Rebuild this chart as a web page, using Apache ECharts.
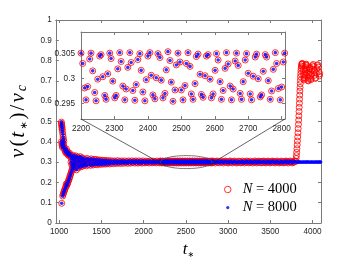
<!DOCTYPE html>
<html><head><meta charset="utf-8">
<script src="https://cdn.jsdelivr.net/npm/echarts@6/dist/echarts.min.js"></script>
<style>html,body{margin:0;padding:0;background:#fff}#c{width:355px;height:264px}</style>
</head><body><div id="c"></div><script>
// ---- tick values ----
const xTicksMain = [1000,1500,2000,2500,3000,3500,4000];
const yTicksMain = [0,0.1,0.2,0.3,0.4,0.5,0.6,0.7,0.8,0.9,1];
const xTicksInset = [2200,2300,2400,2500,2600,2700,2800];
const yTicksInset = [0.295,0.3,0.305];
const seriesNames = ['N = 4000','N = 8000'];

// ---- data: [t*, v/vc] (shared by both N where they coincide) ----
const earlyUpper = [[1026,0.497],[1028,0.490],[1030,0.483],[1032,0.476],[1034,0.469],[1036,0.461],[1039,0.450],[1043,0.437],[1047,0.424],[1051,0.412],[1055,0.402],[1029,0.402],[1032,0.391],[1035,0.381],[1039,0.372],[1045,0.394],[1050,0.386],[1056,0.377],[1061,0.368],[1067,0.360],[1073,0.353],[1079,0.346],[1085,0.365],[1091,0.353],[1097,0.342],[1103,0.336],[1109,0.348],[1115,0.338],[1121,0.330],[1127,0.342],[1133,0.332]];
const earlyLower = [[1030,0.097],[1042,0.133],[1047,0.141],[1053,0.149],[1059,0.156],[1065,0.163],[1071,0.170],[1077,0.177],[1083,0.192],[1089,0.184],[1095,0.190],[1101,0.197],[1107,0.204],[1113,0.211],[1119,0.218],[1125,0.226],[1131,0.234],[1137,0.242],[1143,0.250],[1149,0.258],[1155,0.266],[1161,0.274],[1167,0.281],[1173,0.288]];
const earlyBlob = [[1140,0.300],[1145,0.318],[1150,0.286],[1155,0.327],[1160,0.293],[1165,0.311],[1170,0.333],[1175,0.268],[1180,0.306],[1185,0.322],[1190,0.279],[1195,0.296],[1200,0.330],[1205,0.262],[1210,0.312],[1215,0.289],[1220,0.324],[1225,0.272],[1230,0.303],[1235,0.319],[1240,0.281],[1245,0.298],[1250,0.327],[1255,0.276],[1260,0.309],[1265,0.291],[1270,0.321],[1275,0.280],[1280,0.305],[1285,0.317],[1290,0.285],[1295,0.300]];
const band1 = [[1300,0.286],[1308,0.314],[1316,0.296],[1324,0.282],[1332,0.318],[1340,0.305],[1348,0.288],[1356,0.312],[1364,0.300],[1372,0.284],[1380,0.316],[1388,0.293],[1396,0.309],[1404,0.286],[1412,0.314],[1420,0.298],[1428,0.289],[1436,0.313],[1444,0.303],[1452,0.287],[1460,0.311],[1468,0.295],[1476,0.290],[1484,0.310],[1492,0.301],[1500,0.289],[1508,0.309],[1516,0.296],[1524,0.291],[1532,0.308],[1540,0.303],[1548,0.290],[1556,0.308],[1564,0.297],[1572,0.292],[1580,0.307],[1588,0.302],[1596,0.291]];
const band2 = [[1608,0.307],[1620,0.294],[1632,0.305],[1644,0.292],[1656,0.306],[1668,0.299],[1680,0.293],[1692,0.307],[1704,0.296],[1716,0.304],[1728,0.293],[1740,0.306],[1752,0.300],[1764,0.294],[1776,0.306],[1788,0.297],[1800,0.303],[1812,0.294],[1824,0.306],[1836,0.299],[1848,0.295],[1860,0.306],[1872,0.298],[1884,0.304],[1896,0.295],[1908,0.306],[1920,0.300],[1932,0.295],[1944,0.306],[1956,0.297],[1968,0.303],[1980,0.295],[1992,0.306],[2004,0.299],[2016,0.296],[2028,0.305],[2040,0.298],[2052,0.303],[2064,0.2955],[2076,0.3055],[2088,0.300],[2100,0.296],[2112,0.305],[2124,0.298],[2136,0.303],[2148,0.2957],[2160,0.3053],[2172,0.2995],[2184,0.2962],[2196,0.3050]];
const insetBand = [[2200,0.3052],[2205,0.3031],[2211,0.2981],[2215,0.2957],[2220,0.2984],[2226,0.3040],[2230,0.3052],[2235,0.3016],[2241,0.2972],[2245,0.2955],[2250,0.2999],[2256,0.3046],[2260,0.3049],[2265,0.3004],[2271,0.2966],[2275,0.2958],[2280,0.3010],[2286,0.3052],[2290,0.3041],[2295,0.2995],[2301,0.2961],[2305,0.2966],[2310,0.3020],[2316,0.3053],[2320,0.3035],[2325,0.2985],[2331,0.2957],[2335,0.2979],[2340,0.3023],[2346,0.3053],[2350,0.3033],[2355,0.2976],[2361,0.2956],[2365,0.2988],[2370,0.3039],[2376,0.3051],[2380,0.3017],[2385,0.2973],[2391,0.2955],[2395,0.2998],[2400,0.3046],[2406,0.3053],[2410,0.3007],[2415,0.2967],[2421,0.2959],[2425,0.3002],[2430,0.3051],[2436,0.3043],[2440,0.2997],[2445,0.2961],[2451,0.2970],[2455,0.3018],[2460,0.3055],[2466,0.3037],[2470,0.2993],[2475,0.2954],[2481,0.2977],[2485,0.3028],[2490,0.3052],[2496,0.3034],[2500,0.2977],[2505,0.2957],[2511,0.2986],[2515,0.3031],[2520,0.3053],[2526,0.3025],[2530,0.2969],[2535,0.2958],[2541,0.2990],[2545,0.3045],[2550,0.3050],[2556,0.3009],[2560,0.2968],[2565,0.2962],[2571,0.3006],[2575,0.3046],[2580,0.3049],[2586,0.2999],[2590,0.2961],[2595,0.2969],[2601,0.3017],[2605,0.3051],[2610,0.3038],[2616,0.2994],[2620,0.2958],[2625,0.2976],[2631,0.3021],[2635,0.3053],[2640,0.3030],[2646,0.2985],[2650,0.2957],[2655,0.2979],[2661,0.3036],[2665,0.3052],[2670,0.3027],[2676,0.2970],[2680,0.2958],[2685,0.2994],[2691,0.3038],[2695,0.3051],[2700,0.3011],[2706,0.2969],[2710,0.2957],[2715,0.3005],[2721,0.3044],[2725,0.3050],[2730,0.3000],[2736,0.2963],[2740,0.2967],[2745,0.3015],[2751,0.3049],[2755,0.3044],[2760,0.2996],[2766,0.2958],[2770,0.2975],[2775,0.3019],[2781,0.3053],[2785,0.3031],[2790,0.2980],[2796,0.2957],[2800,0.2983],[2805,0.3034],[2809,0.3052]];
const band3 = [[2812,0.2962],[2824,0.3048],[2836,0.3010],[2848,0.2957],[2860,0.3036],[2872,0.3053],[2884,0.2985],[2896,0.2963],[2908,0.3025],[2920,0.3055],[2932,0.2998],[2944,0.2956],[2956,0.3014],[2968,0.3050],[2980,0.3030],[2992,0.2970],[3004,0.2958],[3016,0.3040],[3028,0.3054],[3040,0.2990],[3052,0.2960],[3064,0.3020],[3076,0.3052],[3088,0.3006],[3100,0.2955],[3112,0.2980],[3124,0.3045],[3136,0.3033],[3148,0.2966],[3160,0.2972],[3172,0.3050],[3184,0.3018],[3196,0.2957],[3208,0.2994],[3220,0.3054],[3232,0.3028],[3244,0.2962],[3256,0.2978],[3268,0.3046],[3280,0.3009],[3292,0.2956],[3304,0.3003],[3316,0.3055],[3328,0.3022],[3340,0.2959],[3352,0.2987],[3364,0.3049],[3376,0.3035],[3388,0.2968],[3400,0.2965],[3412,0.3042],[3424,0.3051],[3436,0.2982],[3448,0.2957],[3460,0.3012],[3472,0.3053],[3484,0.3024],[3496,0.2961],[3508,0.2974],[3520,0.3044],[3532,0.3047],[3544,0.2992],[3556,0.2956],[3568,0.3016],[3580,0.3055],[3592,0.3008],[3604,0.2958],[3616,0.2983],[3628,0.3048],[3640,0.3031],[3652,0.2964],[3664,0.2970],[3676,0.3039],[3688,0.3052],[3700,0.2997],[3712,0.2955],[3724,0.3019],[3736,0.3054],[3748,0.3013],[3760,0.2960],[3772,0.2986],[3784,0.3046],[3796,0.3027]];
const tailN4000 = [[3802,0.305],[3806,0.318],[3809,0.332],[3812,0.348],[3815,0.366],[3818,0.385],[3821,0.404],[3824,0.424],[3827,0.444],[3830,0.465],[3833,0.486],[3836,0.507],[3838,0.528],[3840,0.549],[3842,0.570],[3844,0.590],[3846,0.610],[3848,0.630],[3850,0.650],[3852,0.668],[3854,0.686],[3856,0.703],[3858,0.720],[3860,0.735],[3862,0.750],[3865,0.763],[3868,0.774],[3872,0.782],[3876,0.786],[3880,0.784],[3884,0.770],[3888,0.752],[3892,0.733],[3896,0.716],[3900,0.705],[3904,0.712],[3908,0.728],[3912,0.748],[3916,0.766],[3920,0.779],[3924,0.783],[3928,0.775],[3932,0.758],[3936,0.738],[3940,0.718],[3944,0.703],[3948,0.700],[3952,0.712],[3956,0.732],[3960,0.752],[3964,0.768],[3968,0.762],[3972,0.745],[3976,0.725],[3980,0.706],[3984,0.712],[3990,0.735],[3996,0.758],[4002,0.775],[4008,0.781],[4014,0.770],[4020,0.750],[4026,0.728],[4032,0.712],[4038,0.716],[4044,0.738],[4050,0.760],[4056,0.776],[4062,0.780],[4068,0.768],[4074,0.745],[4080,0.725],[4085,0.735]];
const tailN8000 = [[3812,0.3005],[3824,0.2995],[3836,0.3010],[3848,0.2998],[3860,0.3006],[3872,0.2996],[3884,0.3008],[3896,0.3000],[3908,0.3004],[3920,0.2995],[3932,0.3009],[3944,0.2999],[3956,0.3005],[3968,0.2996],[3980,0.3008],[3992,0.3001],[4004,0.3004],[4016,0.2996],[4028,0.3008],[4040,0.3000],[4052,0.3005],[4064,0.2997],[4076,0.3007],[4088,0.3001],[4096,0.3003]];

const shared = [].concat(earlyUpper, earlyLower, earlyBlob, band1, band2, insetBand, band3);
const dataN4000 = shared.concat(tailN4000);
const dataN8000 = shared.concat(tailN8000);

// zoom annotation (data coords of main axes)
const ellipseCenter = [2505, 0.3];
const ellipseRadius = [305, 0.032];
const connectorEndsT = [2262, 2772];
const insetX = [2200, 2810];
const insetY = [0.2918, 0.3095];

const axisColor = '#7a7a7a';
const labelColor = '#262626';
const tickFont = {fontSize: 8.2, color: labelColor, fontFamily: "'Liberation Sans', Arial, sans-serif"};
const serif = "'Liberation Serif', 'Times New Roman', serif";
const plain = v => String(v);

function mkX(grid, pos, min, max, ticks, showLabel, extra) {
  return Object.assign({
    gridIndex: grid, type: 'value', position: pos, min: min, max: max,
    axisLine: {show: true, onZero: false, lineStyle: {color: axisColor, width: 1}},
    axisTick: {show: true, inside: true, length: 3, customValues: ticks, lineStyle: {color: axisColor}},
    axisLabel: showLabel ? Object.assign({customValues: ticks, formatter: plain, margin: grid === 0 ? 5 : 6}, tickFont) : {show: false},
    splitLine: {show: false}
  }, extra || {});
}
function mkY(grid, pos, min, max, ticks, showLabel, extra) {
  return Object.assign({
    gridIndex: grid, type: 'value', position: pos, min: min, max: max,
    axisLine: {show: true, onZero: false, lineStyle: {color: axisColor, width: 1}},
    axisTick: {show: true, inside: true, length: 3, customValues: ticks, lineStyle: {color: axisColor}},
    axisLabel: showLabel ? Object.assign({customValues: ticks, formatter: plain, margin: grid === 0 ? 4 : 6}, tickFont) : {show: false},
    splitLine: {show: false}
  }, extra || {});
}

const chart = echarts.init(document.getElementById('c'), null, {renderer: 'canvas'});
const redStyle = {color: 'rgba(0,0,0,0)', borderColor: '#ff0000', borderWidth: 1};
const blueStyle = {color: '#0000ff'};

const yl = (o) => Object.assign({fontFamily: serif, color: '#000', padding: [0, 1, 0, 1]}, o);
const option = {
  animation: false,
  backgroundColor: '#fff',
  grid: [
    {left: 46, top: 20, width: 275, height: 211, containLabel: false},
    {left: 81, top: 32, width: 204, height: 87, show: true, backgroundColor: '#fff', borderWidth: 0}
  ],
  xAxis: [
    mkX(0, 'bottom', 960, 4100, xTicksMain, true, {
      name: '{i|t}{s|\u2217}', nameLocation: 'middle', nameGap: 18,
      nameTextStyle: {rich: {
        i: {fontFamily: serif, fontStyle: 'italic', fontSize: 17, color: '#000', lineHeight: 18},
        s: {fontFamily: 'DejaVu Sans, sans-serif', fontSize: 8, color: '#000', verticalAlign: 'bottom', lineHeight: 8}
      }}
    }),
    mkX(0, 'top', 960, 4100, xTicksMain, false),
    mkX(1, 'bottom', insetX[0], insetX[1], xTicksInset, true),
    mkX(1, 'top', insetX[0], insetX[1], xTicksInset, false)
  ],
  yAxis: [
    mkY(0, 'left', 0, 1, yTicksMain, true, {
      name: '{i|v}{r|(}{i|t}{s|\u2217}{r|)}{r|/}{i|v}{c|c}', nameLocation: 'middle', nameGap: 20, nameRotate: 90,
      nameTextStyle: {rich: {
        i: yl({fontStyle: 'italic', fontSize: 21, lineHeight: 22}),
        r: yl({fontSize: 21, lineHeight: 22}),
        s: yl({fontFamily: 'DejaVu Sans, sans-serif', fontSize: 10, verticalAlign: 'bottom', lineHeight: 10}),
        c: yl({fontStyle: 'italic', fontSize: 14, verticalAlign: 'bottom', lineHeight: 12})
      }}
    }),
    mkY(0, 'right', 0, 1, yTicksMain, false),
    mkY(1, 'left', insetY[0], insetY[1], yTicksInset, true),
    mkY(1, 'right', insetY[0], insetY[1], yTicksInset, false)
  ],
  legend: {
    show: true, orient: 'vertical', left: 224, top: 182, padding: 0,
    itemWidth: 20, itemHeight: 6.5, itemGap: 3, selectedMode: false,
    data: [
      {name: seriesNames[0], icon: 'circle', itemStyle: {color: 'rgba(0,0,0,0)', borderColor: '#ff0000', borderWidth: 1}},
      {name: seriesNames[1], icon: 'path://M0 0M12 12M3 6a3 3 0 1 0 6 0a3 3 0 1 0 -6 0Z'}
    ],
    formatter: function (n) { return n.replace('N', '{i|N}'); },
    textStyle: {fontFamily: serif, fontSize: 14.5, color: '#000', lineHeight: 14,
      rich: {i: {fontFamily: serif, fontStyle: 'italic', fontSize: 14.5, color: '#000', lineHeight: 14}}}
  },
  series: [
    {name: seriesNames[0], type: 'scatter', xAxisIndex: 0, yAxisIndex: 0, data: dataN4000, symbol: 'circle', symbolSize: 6, itemStyle: redStyle, clip: true, silent: true, z: 2},
    {name: seriesNames[1], type: 'scatter', xAxisIndex: 0, yAxisIndex: 0, data: dataN8000, symbol: 'circle', symbolSize: 3.6, itemStyle: blueStyle, clip: true, silent: true, z: 3},
    {name: seriesNames[0], type: 'scatter', xAxisIndex: 2, yAxisIndex: 2, data: insetBand.concat(band2, band3), symbol: 'circle', symbolSize: 6, itemStyle: redStyle, clip: true, silent: true, z: 4},
    {name: seriesNames[1], type: 'scatter', xAxisIndex: 2, yAxisIndex: 2, data: insetBand.concat(band2, band3), symbol: 'circle', symbolSize: 3.6, itemStyle: blueStyle, clip: true, silent: true, z: 5}
  ]
};
chart.setOption(option);

// zoom annotation: ellipse on main plot + connector lines to inset corners
const P0 = p => chart.convertToPixel({gridIndex: 0}, p);
const P1 = p => chart.convertToPixel({gridIndex: 1}, p);
const ec = P0(ellipseCenter);
const erx = P0([ellipseCenter[0] + ellipseRadius[0], ellipseCenter[1]])[0] - ec[0];
const ery = ec[1] - P0([ellipseCenter[0], ellipseCenter[1] + ellipseRadius[1]])[1];
function ellipseLow(t) {
  const u = (t - ellipseCenter[0]) / ellipseRadius[0];
  return P0([t, ellipseCenter[1] - ellipseRadius[1] * Math.sqrt(1 - u * u)]);
}
const cBL = P1([insetX[0], insetY[0]]);
const cBR = P1([insetX[1], insetY[0]]);
const e1 = ellipseLow(connectorEndsT[0]);
const e2 = ellipseLow(connectorEndsT[1]);
chart.setOption({graphic: [
  {type: 'ellipse', shape: {cx: ec[0], cy: ec[1], rx: erx, ry: ery}, style: {fill: null, stroke: '#555', lineWidth: 0.8}, z: 10, silent: true},
  {type: 'line', shape: {x1: cBL[0], y1: cBL[1], x2: e1[0], y2: e1[1]}, style: {stroke: '#222', lineWidth: 0.7}, z: 10, silent: true},
  {type: 'line', shape: {x1: cBR[0], y1: cBR[1], x2: e2[0], y2: e2[1]}, style: {stroke: '#222', lineWidth: 0.7}, z: 10, silent: true}
]});
</script></body></html>
